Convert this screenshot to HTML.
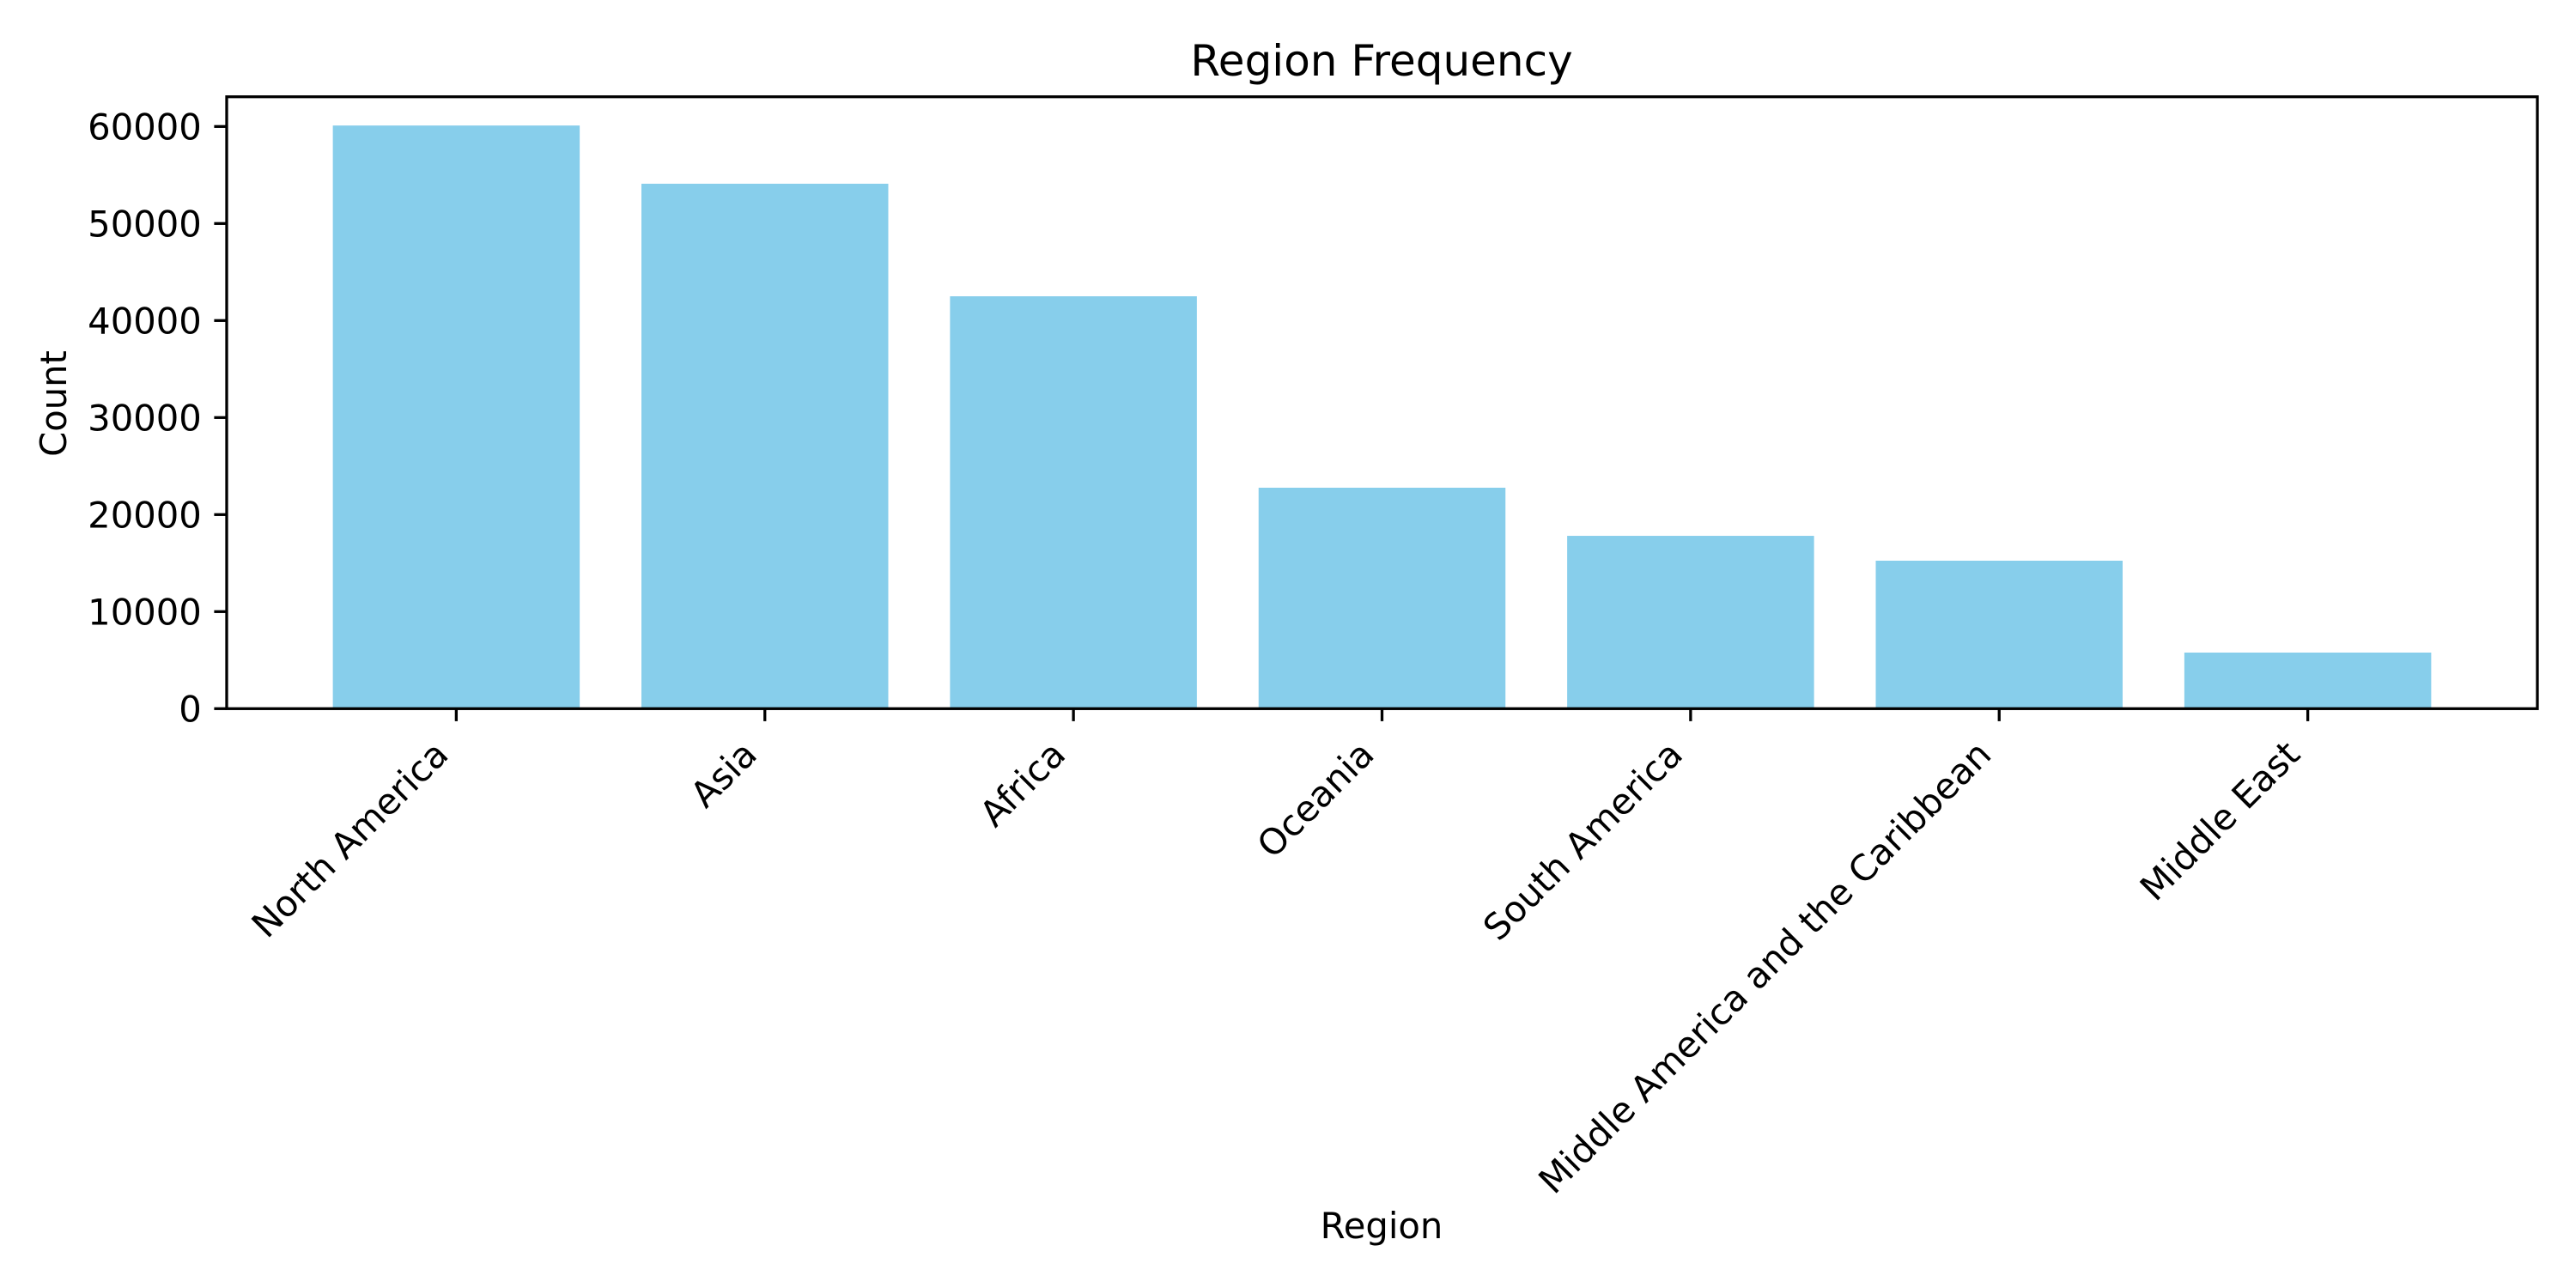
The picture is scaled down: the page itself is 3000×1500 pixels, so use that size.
<!DOCTYPE html>
<html><head><meta charset="utf-8">
<style>
html,body{margin:0;padding:0;background:#fff;}
svg{display:block;font-family:"DejaVu Sans","Liberation Sans",sans-serif;}
</style></head>
<body>
<svg id="chart" width="3000" height="1500" viewBox="0 0 3000 1500" xmlns="http://www.w3.org/2000/svg">
<rect x="0" y="0" width="3000" height="1500" fill="#fff"/>
<g id="bars"></g>
<g id="yticks"></g>
<g id="xticks"></g>
<rect x="264" y="112.7" width="2691" height="712.6" fill="none" stroke="#000" stroke-width="3.3"/>
<text x="1609" y="88" font-size="50" text-anchor="middle">Region Frequency</text>
<text x="0" y="0" font-size="41.7" text-anchor="middle" transform="translate(77,470) rotate(-90)">Count</text>
<text x="1609" y="1442" font-size="41.7" text-anchor="middle">Region</text>
</svg>
<script>
const categories = ["North America","Asia","Africa","Oceania","South America","Middle America and the Caribbean","Middle East"];
const counts = [60100, 54100, 42500, 22770, 17810, 15250, 5780];
const yTickValues = [0, 10000, 20000, 30000, 40000, 50000, 60000];
const yTickLabels = ["0","10000","20000","30000","40000","50000","60000"];

const NS = "http://www.w3.org/2000/svg";
const plotLeft = 264, plotRight = 2955, plotTop = 112.7, plotBottom = 825.3;
const yMax = 63063;
const xMin = -0.744, xMax = 6.744;
function xScale(i){ return plotLeft + (i - xMin) / (xMax - xMin) * (plotRight - plotLeft); }
function yScale(v){ return plotBottom - v / yMax * (plotBottom - plotTop); }
const unit = (plotRight - plotLeft) / (xMax - xMin);
const barW = 0.8 * unit;

const gBars = document.getElementById('bars');
const gX = document.getElementById('xticks');
const gY = document.getElementById('yticks');

categories.forEach((c, i) => {
  const cx = xScale(i);
  const r = document.createElementNS(NS, 'rect');
  
  
  r.setAttribute('x', cx - barW / 2);
  r.setAttribute('y', yScale(counts[i]));
  r.setAttribute('width', barW);
  r.setAttribute('height', plotBottom - yScale(counts[i]));
  r.setAttribute('fill', '#87CEEB');
  gBars.appendChild(r);

  const t = document.createElementNS(NS, 'line');
  
  
  t.setAttribute('x1', cx); t.setAttribute('x2', cx);
  t.setAttribute('y1', plotBottom); t.setAttribute('y2', plotBottom + 14.6);
  t.setAttribute('stroke', '#000'); t.setAttribute('stroke-width', 3.3);
  gX.appendChild(t);

  const lbl = document.createElementNS(NS, 'text');
  
  
  lbl.setAttribute('font-size', 41.7);
  lbl.setAttribute('text-anchor', 'end');
  lbl.setAttribute('transform', 'translate(' + (cx - 7) + ',' + (854 + 27) + ') rotate(-45)');
  lbl.textContent = c;
  gX.appendChild(lbl);
});

yTickValues.forEach((v, i) => {
  const y = yScale(v);
  const t = document.createElementNS(NS, 'line');
  
  
  t.setAttribute('x1', plotLeft - 14.6); t.setAttribute('x2', plotLeft);
  t.setAttribute('y1', y); t.setAttribute('y2', y);
  t.setAttribute('stroke', '#000'); t.setAttribute('stroke-width', 3.3);
  gY.appendChild(t);
  const lbl = document.createElementNS(NS, 'text');
  
  
  lbl.setAttribute('x', plotLeft - 29.2);
  lbl.setAttribute('y', y + 15);
  lbl.setAttribute('font-size', 41.7);
  lbl.setAttribute('text-anchor', 'end');
  lbl.textContent = yTickLabels[i];
  gY.appendChild(lbl);
});
</script>
</body></html>
